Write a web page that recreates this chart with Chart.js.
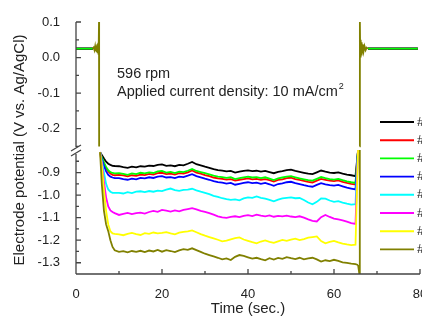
<!DOCTYPE html>
<html>
<head>
<meta charset="utf-8">
<script src="https://cdn.jsdelivr.net/npm/chart.js@4.4.0/dist/chart.umd.min.js"></script>
<style>
html,body{margin:0;padding:0;background:#fff;overflow:hidden;}
#wrap{width:440px;height:320px;}
canvas{display:block;}
</style>
</head>
<body>
<div id="wrap"><canvas id="myChart" width="440" height="320"></canvas></div>
<script>
var seriesNames=['#1','#2','#3','#4','#5','#6','#7','#8'];
var seriesColors=['#000000','#ff0000','#00ff00','#0000ff','#00ffff','#ff00ff','#ffff00','#808000'];

var xTicks=[0,20,40,60,80];
var xMinor=[10,30,50,70];
var topTicks=[0.1,0,-0.1,-0.2];
var topMinor=[0.05,-0.05,-0.15,-0.25];
var botTicks=[-0.9,-1.0,-1.1,-1.2,-1.3];
var botMinor=[-0.85,-0.95,-1.05,-1.15,-1.25,-1.35];

// time (s) for the low-potential part
var tBot=[5.6,6,6.5,7,7.5,8,8.5,9,
  10,11,12,13,14,15,16,17,18,19,
  20,21,22,23,24,25,26,27,28,29,
  30,31,32,33,34,35,36,37,38,39,
  40,41,42,43,44,45,46,47,48,49,
  50,51,52,53,54,55,56,57,58,59,
  60,61,62,63,64,65,65.6];

var s1=[-0.81,-0.822,-0.838,-0.852,-0.861,-0.866,-0.870,-0.871,
  -0.872,-0.876,-0.879,-0.874,-0.877,-0.872,-0.874,-0.869,-0.871,-0.866,
  -0.864,-0.870,-0.868,-0.872,-0.866,-0.868,-0.861,-0.853,-0.863,-0.868,
  -0.874,-0.879,-0.885,-0.889,-0.891,-0.895,-0.893,-0.900,-0.896,-0.893,
  -0.890,-0.894,-0.892,-0.896,-0.893,-0.898,-0.903,-0.897,-0.894,-0.889,
  -0.887,-0.893,-0.897,-0.901,-0.905,-0.907,-0.899,-0.891,-0.896,-0.900,
  -0.902,-0.899,-0.905,-0.909,-0.912,-0.916,-0.80];
var s2=[-0.81,-0.835,-0.860,-0.880,-0.895,-0.904,-0.910,-0.912,
  -0.910,-0.913,-0.917,-0.912,-0.915,-0.909,-0.911,-0.906,-0.909,-0.903,
  -0.901,-0.907,-0.905,-0.909,-0.903,-0.905,-0.899,-0.891,-0.900,-0.905,
  -0.911,-0.916,-0.922,-0.926,-0.928,-0.931,-0.929,-0.936,-0.932,-0.929,
  -0.926,-0.930,-0.928,-0.932,-0.929,-0.934,-0.940,-0.933,-0.930,-0.925,
  -0.923,-0.929,-0.933,-0.937,-0.941,-0.944,-0.936,-0.928,-0.932,-0.936,
  -0.938,-0.935,-0.941,-0.946,-0.950,-0.953,-0.80];
var s3=[-0.81,-0.832,-0.855,-0.875,-0.890,-0.898,-0.902,-0.904,
  -0.903,-0.906,-0.910,-0.904,-0.907,-0.901,-0.904,-0.899,-0.902,-0.895,
  -0.893,-0.900,-0.897,-0.902,-0.896,-0.898,-0.892,-0.884,-0.893,-0.898,
  -0.903,-0.908,-0.914,-0.918,-0.920,-0.924,-0.921,-0.929,-0.925,-0.921,
  -0.918,-0.922,-0.920,-0.925,-0.921,-0.927,-0.933,-0.926,-0.922,-0.918,
  -0.916,-0.921,-0.926,-0.930,-0.934,-0.936,-0.928,-0.920,-0.925,-0.929,
  -0.931,-0.928,-0.934,-0.939,-0.943,-0.946,-0.80];
var s4=[-0.81,-0.840,-0.870,-0.895,-0.910,-0.918,-0.922,-0.925,
  -0.925,-0.929,-0.932,-0.927,-0.930,-0.924,-0.926,-0.921,-0.924,-0.918,
  -0.916,-0.922,-0.920,-0.925,-0.918,-0.920,-0.914,-0.907,-0.916,-0.921,
  -0.927,-0.932,-0.938,-0.942,-0.945,-0.949,-0.946,-0.954,-0.950,-0.946,
  -0.943,-0.947,-0.945,-0.950,-0.946,-0.952,-0.959,-0.951,-0.948,-0.943,
  -0.941,-0.947,-0.951,-0.956,-0.960,-0.963,-0.955,-0.947,-0.952,-0.956,
  -0.958,-0.955,-0.961,-0.967,-0.971,-0.975,-0.80];
var s5=[-0.81,-0.850,-0.900,-0.950,-0.975,-0.985,-0.990,-0.990,
  -0.990,-0.993,-0.987,-0.991,-0.985,-0.983,-0.987,-0.982,-0.985,-0.980,
  -0.982,-0.976,-0.971,-0.978,-0.981,-0.977,-0.976,-0.972,-0.979,-0.985,
  -0.990,-0.996,-1.003,-1.008,-1.014,-1.018,-1.021,-1.019,-1.023,-1.015,
  -1.010,-1.012,-1.006,-1.012,-1.016,-1.021,-1.028,-1.020,-1.015,-1.012,
  -1.010,-1.014,-1.013,-1.022,-1.033,-1.041,-1.030,-1.015,-1.016,-1.024,
  -1.030,-1.027,-1.033,-1.038,-1.042,-1.040,-0.80];
var s6=[-0.81,-0.860,-0.940,-1.010,-1.050,-1.068,-1.075,-1.080,
  -1.088,-1.083,-1.079,-1.084,-1.080,-1.078,-1.082,-1.075,-1.070,-1.074,
  -1.066,-1.069,-1.073,-1.068,-1.072,-1.066,-1.062,-1.058,-1.063,-1.070,
  -1.074,-1.080,-1.087,-1.094,-1.099,-1.101,-1.097,-1.094,-1.098,-1.092,
  -1.089,-1.093,-1.087,-1.091,-1.094,-1.090,-1.096,-1.092,-1.094,-1.091,
  -1.095,-1.098,-1.094,-1.100,-1.108,-1.114,-1.117,-1.098,-1.088,-1.097,
  -1.104,-1.108,-1.112,-1.118,-1.124,-1.128,-0.80];
var s7=[-0.81,-0.870,-0.980,-1.070,-1.130,-1.160,-1.170,-1.172,
  -1.174,-1.178,-1.172,-1.168,-1.173,-1.177,-1.169,-1.172,-1.166,-1.170,
  -1.168,-1.164,-1.170,-1.174,-1.167,-1.163,-1.161,-1.157,-1.165,-1.173,
  -1.180,-1.186,-1.192,-1.198,-1.205,-1.202,-1.196,-1.191,-1.188,-1.197,
  -1.203,-1.209,-1.214,-1.206,-1.201,-1.207,-1.212,-1.205,-1.199,-1.203,
  -1.198,-1.193,-1.200,-1.195,-1.189,-1.186,-1.183,-1.204,-1.214,-1.208,
  -1.203,-1.210,-1.215,-1.219,-1.222,-1.220,-0.80];
var s8=[-0.81,-0.950,-1.070,-1.130,-1.160,-1.200,-1.230,-1.245,
  -1.252,-1.249,-1.254,-1.248,-1.252,-1.247,-1.253,-1.246,-1.250,-1.243,
  -1.251,-1.244,-1.248,-1.253,-1.245,-1.240,-1.243,-1.236,-1.244,-1.252,
  -1.260,-1.266,-1.272,-1.278,-1.285,-1.281,-1.288,-1.274,-1.266,-1.270,
  -1.276,-1.282,-1.278,-1.284,-1.289,-1.280,-1.286,-1.279,-1.283,-1.275,
  -1.280,-1.284,-1.278,-1.285,-1.281,-1.278,-1.285,-1.295,-1.289,-1.293,
  -1.287,-1.292,-1.298,-1.301,-1.304,-1.306,-1.31];

// rest potential before and after the current step
var tTopL=[0,3.9];
var tTopR=[67.9,79.5];
var restLevel=[0.025,0.025,0.025,0.025,0.025,0.025,0.025,0.025];

// olive trace switching spikes
var tSpikeA=[3.9,4.1,4.3,4.45,4.6,4.72,4.84,4.95,5.05,5.13,5.2,5.26,5.3,5.35,5.38];
var vSpikeA=[0.025,0.028,0.021,0.031,0.018,0.034,0.015,0.037,0.012,0.040,0.010,0.043,0.008,0.1,-0.25];
var tSpikeB=[65.98,66.02,66.1,66.2,66.3,66.42,66.55,66.7,66.88,67.1,67.35,67.6,67.9];
var vSpikeB=[-0.25,0.1,0.003,0.05,0.008,0.043,0.014,0.037,0.018,0.032,0.021,0.028,0.025];
var tDrop=[65.6,65.9,66.0];
var vDrop=[-1.31,-1.35,-0.80];

var botValues=[s1,s2,s3,s4,s5,s6,s7,s8];
var FONT="'Liberation Sans', Arial, sans-serif";

function pts(ts,vs){
    return ts.map(function(t,i){return {x:t,y:vs[i]};});
}

var datasets=[];
datasets.push({data:pts(tSpikeA,vSpikeA),yAxisID:'yTop',borderColor:seriesColors[7],order:0});
datasets.push({data:pts(tSpikeB,vSpikeB),yAxisID:'yTop',borderColor:seriesColors[7],order:0});
datasets.push({data:pts(tDrop,vDrop),yAxisID:'yBot',borderColor:seriesColors[7],order:0});
for(var i=0;i<8;i++){
    var lv=[restLevel[i],restLevel[i]];
    datasets.push({
        label:seriesNames[i],
        data:pts(tTopL,lv).concat([{x:40,y:null}],pts(tTopR,lv)),
        yAxisID:'yTop',
        borderColor:seriesColors[i],
        order:(i==2?1:i+2)
    });
    datasets.push({
        label:seriesNames[i],
        data:pts(tBot,botValues[i]),
        yAxisID:'yBot',
        borderColor:seriesColors[i],
        order:10-i
    });
}

function fixTicks(list){
    return function(s){ s.ticks=list.map(function(v){return {value:v};}); };
}

var decor={
    id:'decor',
    afterDatasetsDraw:function(chart){
        var c=chart.ctx,a=chart.chartArea;
        var sx=chart.scales.x,st=chart.scales.yTop,sb=chart.scales.yBot;
        var split=st.bottom;
        c.save();
        c.strokeStyle='#444';
        c.lineWidth=1.3;
        c.beginPath();
        c.moveTo(a.left,a.top);c.lineTo(a.left,split-3);
        c.moveTo(a.left,split+4);c.lineTo(a.left,a.bottom);
        c.moveTo(a.left-5,split+1);c.lineTo(a.left+5,split-5);
        c.moveTo(a.left-5,split+6);c.lineTo(a.left+5,split);
        c.moveTo(a.left,a.bottom);c.lineTo(a.right,a.bottom);
        topTicks.forEach(function(v){var y=st.getPixelForValue(v);c.moveTo(a.left,y);c.lineTo(a.left+5,y);});
        topMinor.forEach(function(v){var y=st.getPixelForValue(v);c.moveTo(a.left,y);c.lineTo(a.left+3,y);});
        botTicks.forEach(function(v){var y=sb.getPixelForValue(v);c.moveTo(a.left,y);c.lineTo(a.left+5,y);});
        botMinor.forEach(function(v){var y=sb.getPixelForValue(v);c.moveTo(a.left,y);c.lineTo(a.left+3,y);});
        xTicks.forEach(function(v){var x=sx.getPixelForValue(v);c.moveTo(x,a.bottom);c.lineTo(x,a.bottom-5);});
        xMinor.forEach(function(v){var x=sx.getPixelForValue(v);c.moveTo(x,a.bottom);c.lineTo(x,a.bottom-3);});
        c.stroke();

        c.fillStyle='#222';
        c.textBaseline='middle';
        // y axis title
        c.save();
        c.translate(20,(a.top+a.bottom)/2+2);
        c.rotate(-Math.PI/2);
        c.textAlign='center';
        c.font='15px '+FONT;
        c.fillText('Electrode potential (V vs. Ag/AgCl)',0,0);
        c.restore();

        // notes
        c.textAlign='left';
        c.font='14.5px '+FONT;
        c.fillText('596 rpm',117,74);
        var txt='Applied current density: 10 mA/cm';
        c.fillText(txt,117,92);
        var w=c.measureText(txt).width;
        c.font='9px '+FONT;
        c.fillText('2',117+w+1,87);

        // legend
        c.font='13px '+FONT;
        c.lineWidth=1.9;
        for(var k=0;k<seriesNames.length;k++){
            var ly=122+k*18.2;
            c.strokeStyle=seriesColors[k];
            c.beginPath();c.moveTo(380,ly);c.lineTo(414,ly);c.stroke();
            c.fillStyle='#222';
            c.fillText(seriesNames[k],417,ly);
        }
        c.restore();
    }
};

var ctx=document.getElementById('myChart');
var myChart=new Chart(ctx,{
    type:'line',
    data:{datasets:datasets},
    options:{
        responsive:false,
        animation:false,
        devicePixelRatio:1,
        layout:{padding:{left:0,top:22,right:20,bottom:0}},
        elements:{point:{radius:0},line:{borderWidth:1.8,tension:0}},
        plugins:{legend:{display:false},tooltip:{enabled:false}},
        scales:{
            x:{
                type:'linear',min:0,max:80,
                afterBuildTicks:fixTicks(xTicks),
                afterFit:function(s){s.height=46;},
                grid:{display:false},border:{display:false},
                ticks:{font:{family:FONT,size:13},color:'#222',padding:5,maxRotation:0,autoSkip:false,
                    callback:function(v){return String(v);}},
                title:{display:true,text:'Time (sec.)',font:{family:FONT,size:15},color:'#222',padding:{top:4,bottom:2}}
            },
            yTop:{
                type:'linear',position:'left',stack:'v',stackWeight:128,weight:2,
                min:-0.26,max:0.1,
                afterBuildTicks:fixTicks(topTicks),
                afterFit:function(s){s.width=76;},
                grid:{display:false},border:{display:false},
                ticks:{font:{family:FONT,size:13},color:'#222',padding:8,autoSkip:false,
                    callback:function(v){return v.toFixed(1);}}
            },
            yBot:{
                type:'linear',position:'left',stack:'v',stackWeight:124,weight:1,
                min:-1.35,max:-0.8,
                afterBuildTicks:fixTicks(botTicks),
                afterFit:function(s){s.width=76;},
                grid:{display:false},border:{display:false},
                ticks:{font:{family:FONT,size:13},color:'#222',padding:8,autoSkip:false,
                    callback:function(v){return v.toFixed(1);}}
            }
        }
    },
    plugins:[decor]
});
</script>
</body>
</html>
